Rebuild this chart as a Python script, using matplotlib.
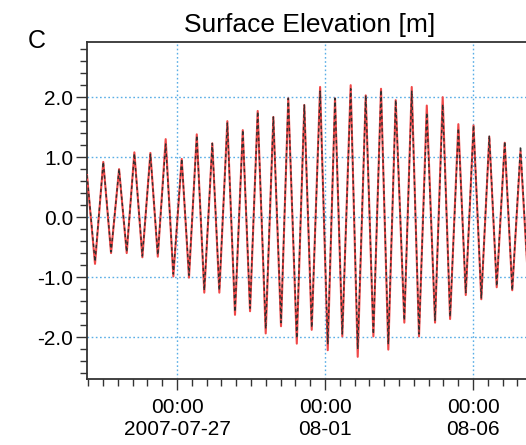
import numpy as np
import matplotlib
matplotlib.use("Agg")
import matplotlib.pyplot as plt
import matplotlib.dates as mdates
import matplotlib.ticker as mticker
from datetime import datetime

plt.rcParams['font.family'] = ['Liberation Sans', 'DejaVu Sans']

# high / low water times, hours after 2007-07-24 00:00
hours = [-1.0, 5.5, 12.2, 18.5, 25.0, 31.2, 37.4, 43.9, 50.4, 56.4,
         62.8, 69.0, 75.8, 81.7, 88.0, 94.1, 100.6, 106.3, 112.8, 119.0,
         125.3, 131.2, 137.4, 143.9, 150.1, 156.3, 162.2, 169.1, 175.2, 181.2,
         188.0, 194.2, 200.1, 206.0, 212.8, 218.5, 225.0, 231.2, 237.4, 243.3,
         249.3, 256.3, 262.3, 268.2, 274.5, 281.2, 287.4, 293.4, 300.1, 306.1,
         312.4, 318.7, 325.2, 331.2, 337.7, 343.8, 350.5, 356.6]

# measured (black)
obs = [0.70, -0.74, 0.92, -0.58, 0.80, -0.58, 1.06, -0.65, 1.05, -0.63,
       1.22, -0.95, 0.97, -0.97, 1.36, -1.22, 1.23, -1.22, 1.57, -1.58,
       1.45, -1.52, 1.76, -1.86, 1.67, -1.76, 1.98, -2.02, 1.87, -1.84,
       2.10, -2.12, 1.98, -1.95, 2.14, -2.20, 2.03, -1.95, 2.12, -2.12,
       1.95, -1.72, 2.10, -1.95, 1.74, -1.72, 1.88, -1.66, 1.48, -1.26,
       1.53, -1.35, 1.36, -1.15, 1.26, -1.22, 1.18, -1.05]

# model (red)
sim = [0.70, -0.78, 0.92, -0.60, 0.80, -0.60, 1.08, -0.67, 1.07, -0.66,
       1.30, -0.99, 0.97, -1.01, 1.38, -1.26, 1.23, -1.26, 1.60, -1.63,
       1.45, -1.57, 1.77, -1.94, 1.67, -1.82, 1.98, -2.11, 1.87, -1.88,
       2.17, -2.22, 1.98, -1.99, 2.20, -2.33, 2.03, -1.99, 2.14, -2.21,
       1.95, -1.76, 2.17, -1.99, 1.86, -1.76, 2.00, -1.70, 1.55, -1.30,
       1.53, -1.37, 1.34, -1.17, 1.24, -1.22, 1.10, -1.05]

tick_dates = [datetime(2007, 7, 27), datetime(2007, 8, 1), datetime(2007, 8, 6)]
tick_labels = ["00:00\n2007-07-27", "00:00\n08-01", "00:00\n08-06"]

base = mdates.date2num(datetime(2007, 7, 24))
t = base + np.array(hours) / 24.0

fig = plt.figure(figsize=(5.26, 4.45), dpi=100)
ax = fig.add_axes([87 / 526, 66 / 445, 446 / 526, 337 / 445])

ax.plot(t, sim, color='#f04848', lw=1.5, zorder=3)
ax.plot(t, obs, color='#303030', lw=1.0, dashes=(2.5, 2), zorder=4)

ax.set_xlim(base - 1.0 / 24, base - 1.0 / 24 + 446 / 29.6)
ax.set_ylim(-2.7, 2.92)

ax.xaxis.set_major_locator(mticker.FixedLocator(mdates.date2num(tick_dates)))
ax.xaxis.set_major_formatter(mticker.FixedFormatter(tick_labels))
ax.xaxis.set_minor_locator(mdates.HourLocator(byhour=[0, 12]))
ax.yaxis.set_major_locator(mticker.MultipleLocator(1.0))
ax.yaxis.set_minor_locator(mticker.MultipleLocator(0.2))
ax.yaxis.set_major_formatter(mticker.FormatStrFormatter('%.1f'))

ax.tick_params(which='major', length=8, width=1, color='#333333',
               labelsize=15, pad=2)
ax.tick_params(which='minor', length=5, width=1, color='#333333')
ax.tick_params(axis='x', which='major', pad=6)

# light blue dotted grid at the major ticks
for v in ax.get_yticks():
    ax.axhline(v, color='#5aaee6', lw=1.0, ls=(0, (1.2, 1.8)), zorder=1)
for d in mdates.date2num(tick_dates):
    ax.axvline(d, color='#5aaee6', lw=1.0, ls=(0, (1.2, 1.8)), zorder=1)

for s in ax.spines.values():
    s.set_color('#333333')
    s.set_linewidth(1.3)
ax.spines['right'].set_visible(False)

ax.set_title("Surface Elevation [m]", fontsize=19, pad=7)
fig.text(28 / 526, 1 - 48 / 445, "C", fontsize=18, ha='left', va='baseline')

fig.savefig("out.png", dpi=100)
